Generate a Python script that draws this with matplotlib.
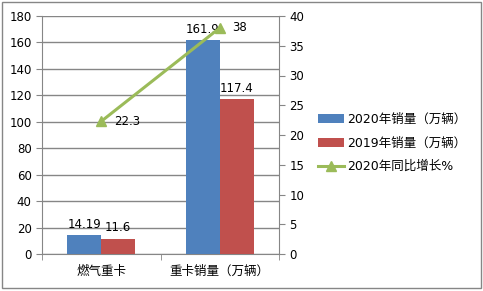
import matplotlib
matplotlib.use("Agg")
import matplotlib.pyplot as plt
from matplotlib.patches import Rectangle
import numpy as np

plt.rcParams["font.family"] = ["DejaVu Sans", "Noto Sans CJK SC"]

categories = ["燃气重卡", "重卡销量（万辆）"]
sales_2020 = [14.19, 161.9]
sales_2019 = [11.6, 117.4]
growth_2020 = [22.3, 38]
label_2020 = "2020年销量（万辆）"
label_2019 = "2019年销量（万辆）"
label_growth = "2020年同比增长%"

BLUE = "#4f81bd"
RED = "#c0504d"
GREEN = "#9bbb59"
GRID = "#868686"

fig = plt.figure(figsize=(4.83, 2.91), dpi=100)
ax = fig.add_axes([42 / 483, 1 - 254 / 291, 237 / 483, 238 / 291])
ax2 = ax.twinx()

x = np.arange(len(categories))
w = 0.285
ax.bar(x - w / 2, sales_2020, w, color=BLUE, label=label_2020, zorder=3)
ax.bar(x + w / 2, sales_2019, w, color=RED, label=label_2019, zorder=3)

for xi, v in zip(x, sales_2020):
    ax.annotate(f"{v:g}", (xi - w / 2, v), xytext=(0, 3), textcoords="offset points",
                ha="center", va="bottom", fontsize=8.5)
for xi, v in zip(x, sales_2019):
    ax.annotate(f"{v:g}", (xi + w / 2, v), xytext=(0, 3), textcoords="offset points",
                ha="center", va="bottom", fontsize=8.5)

ax2.plot(x, growth_2020, color=GREEN, lw=2.2, marker="^", ms=7,
         label=label_growth, zorder=4)
for xi, v in zip(x, growth_2020):
    ax2.annotate(f"{v:g}", (xi, v), xytext=(9, 0), textcoords="offset points",
                 ha="left", va="center", fontsize=8.5)

ax.set_xlim(-0.5, 1.5)
ax.set_ylim(0, 180)
ax.set_yticks(np.arange(0, 181, 20))
ax2.set_ylim(0, 40)
ax2.set_yticks(np.arange(0, 41, 5))
ax.set_xticks(x)
ax.set_xticklabels(categories, fontsize=9)
ax.set_xticks([-0.5, 0.5, 1.5], minor=True)
ax.tick_params(axis="x", which="major", length=0, pad=8)
ax.tick_params(axis="x", which="minor", length=4, color=GRID, direction="out")
ax.tick_params(axis="y", length=4, color=GRID, labelsize=8.5, direction="out")
ax2.tick_params(axis="y", length=4, color=GRID, labelsize=8.5, direction="out")
ax.yaxis.grid(True, color=GRID, lw=1, zorder=0)
ax.set_axisbelow(True)

for a in (ax, ax2):
    a.spines["top"].set_visible(False)
    for s in ("left", "right", "bottom"):
        a.spines[s].set_color(GRID)
ax.spines["right"].set_visible(False)
ax2.spines["left"].set_visible(False)
ax2.spines["bottom"].set_visible(False)

handles = ax.get_legend_handles_labels()[0] + ax2.get_legend_handles_labels()[0]
labels = [label_2020, label_2019, label_growth]
fig.legend(handles, labels, loc="center left", bbox_to_anchor=(318 / 483, 1 - 143 / 291),
           frameon=False, fontsize=9, handlelength=2.1, handleheight=0.7,
           labelspacing=0.85, handletextpad=0.2, borderaxespad=0, borderpad=0)

fig.add_artist(Rectangle((2 / 483, 3 / 291), 479 / 483, 286 / 291, fill=False,
                         edgecolor=GRID, lw=1, transform=fig.transFigure))

fig.savefig("out.png", dpi=100)
